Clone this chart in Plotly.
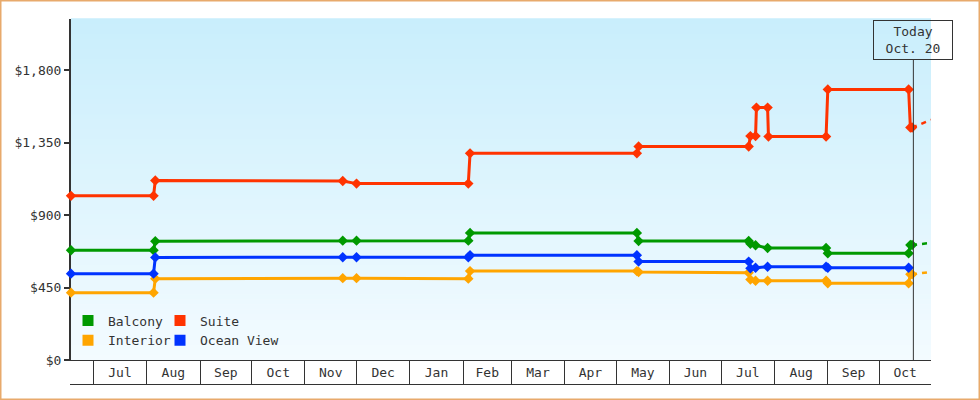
import plotly.graph_objects as go

# ---------------- data ----------------
common_dates = ["2013-06-18", "2013-08-05", "2013-08-06", "2013-11-23", "2013-12-01",
                "2014-02-04", "2014-02-05", "2014-05-13", "2014-05-14", "2014-07-17",
                "2014-07-18", "2014-07-21", "2014-07-28", "2014-08-31", "2014-09-01",
                "2014-10-18", "2014-10-19", "2014-10-20"]

suite_dates = ["2013-06-18", "2013-08-05", "2013-08-06", "2013-11-23", "2013-12-01",
               "2014-02-04", "2014-02-05", "2014-05-13", "2014-05-14", "2014-07-17",
               "2014-07-18", "2014-07-21", "2014-07-21 12:00", "2014-07-28", "2014-07-28 12:00",
               "2014-08-31", "2014-09-01", "2014-10-18", "2014-10-19", "2014-10-20"]
suite = [1019, 1019, 1114, 1111, 1095, 1095, 1283, 1283, 1325, 1325,
         1390, 1390, 1567, 1567, 1387, 1387, 1680, 1680, 1443, 1443]

balcony_dates = common_dates
balcony = [681, 681, 737, 741, 741, 741, 789, 789, 739, 739,
           722, 712, 695, 695, 662, 662, 714, 714]

interior_dates = common_dates
interior = [418, 418, 505, 508, 508, 505, 552, 552, 546, 542,
            499, 492, 492, 492, 476, 476, 532, 532]

ocean_dates = common_dates[:16]
ocean = [536, 536, 637, 638, 638, 638, 650, 650, 611, 611,
         569, 573, 579, 579, 573, 573]

forecast_dates = ["2014-10-20", "2014-10-31"]
suite_fc = [1443, 1491]
balcony_fc = [714, 727]
interior_fc = [532, 547]

y_ticks = [0, 450, 900, 1350, 1800]
y_tick_text = ["$0", "$450", "$900", "$1,350", "$1,800"]
today = "2014-10-20 18:00"
today_label = "Today<br>Oct. 20"

# ---------------- style ----------------
FONT = "DejaVu Sans Mono"
TXT = "#333333"
C_BAL = "#009900"
C_SUI = "#ff3300"
C_INT = "#ffa500"
C_OCE = "#0033ff"

W, H = 980, 400
L, R, T, B = 71, 49, 19, 40
PW, PH = W - L - R, H - T - B


def px_x(px):
    return (px - L) / PW


def px_y(py):
    return (H - B - py) / PH


fig = go.Figure()

# forecast (dashed) traces under the main ones
for xs, ys, c in [(forecast_dates, suite_fc, C_SUI),
                  (forecast_dates, balcony_fc, C_BAL),
                  (forecast_dates, interior_fc, C_INT)]:
    fig.add_trace(go.Scatter(x=xs, y=ys, mode="lines", showlegend=False, hoverinfo="skip",
                             line=dict(color=c, width=2.5, dash="5px,5px")))

for xs, ys, c, n in [(balcony_dates, balcony, C_BAL, "Balcony"),
                     (suite_dates, suite, C_SUI, "Suite"),
                     (interior_dates, interior, C_INT, "Interior"),
                     (ocean_dates, ocean, C_OCE, "Ocean View")]:
    fig.add_trace(go.Scatter(x=xs, y=ys, mode="lines+markers", name=n, showlegend=False,
                             cliponaxis=False,
                             line=dict(color=c, width=3),
                             marker=dict(symbol="diamond", size=8, color=c, line=dict(width=0))))

# legend entries (square swatches)
for n, c, lg in [("Balcony", C_BAL, "legend"), ("Interior", C_INT, "legend"),
                 ("Suite", C_SUI, "legend2"), ("Ocean View", C_OCE, "legend2")]:
    fig.add_trace(go.Scatter(x=[None], y=[None], mode="markers", name=n, legend=lg,
                             marker=dict(symbol="square", size=11, color=c, line=dict(width=0))))

# gradient plot background
shapes = []
N = 68
top = (201, 238, 252)
bot = (243, 251, 255)
for i in range(N):
    t = i / (N - 1)
    col = tuple(round(bot[k] + (top[k] - bot[k]) * t) for k in range(3))
    shapes.append(dict(type="rect", xref="paper", yref="paper", x0=0, x1=1,
                       y0=i / N, y1=(i + 1) / N + 0.002, layer="below",
                       line=dict(width=0), fillcolor="rgb(%d,%d,%d)" % col))

# bottom line of month band
shapes.append(dict(type="line", xref="paper", yref="paper", x0=px_x(70), x1=1,
                   y0=px_y(384.5), y1=px_y(384.5), line=dict(color=TXT, width=1)))
# today line
shapes.append(dict(type="line", xref="x", yref="paper", x0=today, x1=today,
                   y0=0, y1=px_y(60), line=dict(color=TXT, width=1)))
# outer border
shapes.append(dict(type="rect", xref="paper", yref="paper",
                   x0=px_x(0.75), x1=px_x(979.25), y0=px_y(399.25), y1=px_y(0.75),
                   line=dict(color="#e8aa6c", width=1.5), fillcolor="rgba(0,0,0,0)"))

fig.update_layout(
    width=W, height=H,
    margin=dict(l=L, r=R, t=T, b=B),
    paper_bgcolor="white",
    plot_bgcolor="rgba(0,0,0,0)",
    font=dict(family=FONT, size=13, color=TXT),
    shapes=shapes,
    showlegend=True,
    legend=dict(x=px_x(68), y=px_y(305.5), xanchor="left", yanchor="top",
                bgcolor="rgba(0,0,0,0)", font=dict(family=FONT, size=13, color=TXT),
                tracegroupgap=0, itemclick=False),
    legend2=dict(x=px_x(160), y=px_y(305.5), xanchor="left", yanchor="top",
                 bgcolor="rgba(0,0,0,0)", font=dict(family=FONT, size=13, color=TXT),
                 tracegroupgap=0, itemclick=False),
    annotations=[dict(x=today, xref="x", y=px_y(60), yref="paper", yanchor="bottom",
                      xanchor="center", text=today_label, showarrow=False,
                      width=76, height=36, borderwidth=1, borderpad=1,
                      bordercolor=TXT, bgcolor="rgba(0,0,0,0)",
                      font=dict(family=FONT, size=13, color=TXT))],
)

fig.update_xaxes(
    type="date", range=["2013-06-18", "2014-10-31"],
    showgrid=False, zeroline=False,
    showline=True, linecolor=TXT, linewidth=1,
    ticks="outside", ticklen=24, tickcolor=TXT, tickwidth=1,
    dtick="M1", tick0="2013-07-01", tickformat="%b", ticklabelmode="period",
    ticklabelstandoff=-24,
    tickfont=dict(family=FONT, size=13, color=TXT),
)
fig.update_yaxes(
    range=[0, 2117], showgrid=False, zeroline=False,
    showline=True, linecolor=TXT, linewidth=2,
    ticks="outside", ticklen=5, tickcolor=TXT, tickwidth=2,
    tickvals=y_ticks, ticktext=y_tick_text,
    tickfont=dict(family=FONT, size=13, color=TXT),
    layer="below traces",
)

fig.write_html("out.html", config={"displayModeBar": False},
               post_script="document.body.style.margin='0';document.body.style.padding='0';")
